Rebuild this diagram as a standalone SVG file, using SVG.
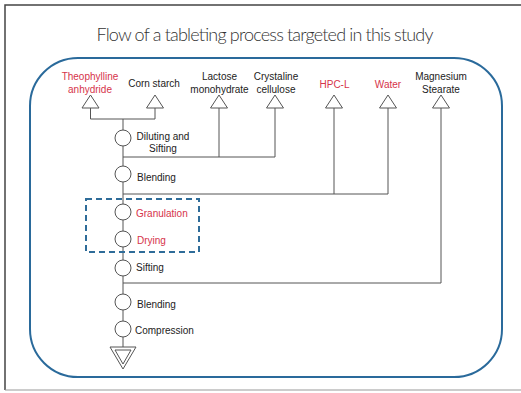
<svg xmlns="http://www.w3.org/2000/svg" width="521" height="393" viewBox="0 0 521 393">
  <style>
    .lbl { font-family: "Liberation Sans", Arial, sans-serif; font-size: 10px; fill: #222; text-anchor: middle; }
    .step { font-family: "Liberation Sans", Arial, sans-serif; font-size: 10px; fill: #222; }
    .red { fill: #d6334a; }
    .ln { stroke: #555; stroke-width: 1; fill: none; }
    .tri { stroke: #555; stroke-width: 1; fill: #fff; }
    .op { stroke: #555; stroke-width: 1; fill: #fff; }
  </style>
  <defs>
    <polygon id="inTri" points="0,0 8.5,13 -8.5,13"/>
  </defs>

  <rect width="521" height="393" fill="#fff"/>
  <!-- page frame -->
  <path d="M5,390 V5 H521" stroke="#444" stroke-width="1.5" fill="none"/>
  <path d="M5,390 H521" stroke="#999" stroke-width="1.2" fill="none"/>

  <text x="265" y="41" font-family="Lato, 'Open Sans', sans-serif" font-size="18" font-weight="300" fill="#333" text-anchor="middle" textLength="337">Flow of a tableting process targeted in this study</text>

  <!-- process boundary -->
  <rect x="30" y="58" width="472" height="319" rx="48" ry="48" fill="none" stroke="#2a6a9b" stroke-width="2"/>

  <!-- connectors -->
  <g id="connectors">
    <path class="ln" d="M123,119 V347"/>
    <path class="ln" d="M90.5,108 V119 H155 V108"/>
    <path class="ln" d="M123,157 H275 V108 M219,108 V157"/>
    <path class="ln" d="M123,194 H388 V108 M334,108 V194"/>
    <path class="ln" d="M123,283 H441 V108"/>
  </g>

  <!-- material inputs -->
  <g id="theophylline">
    <use href="#inTri" class="tri" x="90.5" y="95"/>
    <text class="lbl red" x="90" y="79.5">Theophylline</text>
    <text class="lbl red" x="90" y="92.5">anhydride</text>
  </g>
  <g id="corn-starch">
    <use href="#inTri" class="tri" x="155" y="95"/>
    <text class="lbl" x="154" y="87">Corn starch</text>
  </g>
  <g id="lactose">
    <use href="#inTri" class="tri" x="219" y="95"/>
    <text class="lbl" x="219.5" y="79.5">Lactose</text>
    <text class="lbl" x="219.5" y="92.5">monohydrate</text>
  </g>
  <g id="cellulose">
    <use href="#inTri" class="tri" x="275" y="95"/>
    <text class="lbl" x="276" y="79.5">Crystaline</text>
    <text class="lbl" x="276" y="92.5">cellulose</text>
  </g>
  <g id="hpc-l">
    <use href="#inTri" class="tri" x="334" y="95"/>
    <text class="lbl red" x="334.5" y="88">HPC-L</text>
  </g>
  <g id="water">
    <use href="#inTri" class="tri" x="388" y="95"/>
    <text class="lbl red" x="388" y="88">Water</text>
  </g>
  <g id="mg-stearate">
    <use href="#inTri" class="tri" x="441" y="95"/>
    <text class="lbl" x="441" y="79.5">Magnesium</text>
    <text class="lbl" x="441" y="92.5">Stearate</text>
  </g>

  <!-- operations -->
  <g id="diluting">
    <circle class="op" cx="123" cy="138" r="8"/>
    <text class="step" x="163" y="139.5" text-anchor="middle">Diluting and</text>
    <text class="step" x="163" y="151.5" text-anchor="middle">Sifting</text>
  </g>
  <g id="blending1">
    <circle class="op" cx="123" cy="174" r="8"/>
    <text class="step" x="137" y="180.5">Blending</text>
  </g>
  <g id="granulation">
    <circle class="op" cx="123" cy="212" r="8"/>
    <text class="step red" x="136" y="216.5">Granulation</text>
  </g>
  <g id="drying">
    <circle class="op" cx="123" cy="239" r="8"/>
    <text class="step red" x="137" y="243.5">Drying</text>
  </g>
  <g id="sifting">
    <circle class="op" cx="123" cy="268" r="8"/>
    <text class="step" x="136" y="270.5">Sifting</text>
  </g>
  <g id="blending2">
    <circle class="op" cx="123" cy="302" r="8"/>
    <text class="step" x="137" y="307.5">Blending</text>
  </g>
  <g id="compression">
    <circle class="op" cx="123" cy="329" r="8"/>
    <text class="step" x="135" y="334" font-size="11.5">Compression</text>
  </g>
  <g id="product">
    <polygon class="tri" points="110,347 136,347 123,369"/>
    <polygon class="tri" points="115,350 131,350 123,364"/>
  </g>

  <!-- studied unit operations -->
  <g id="study-scope">
    <rect x="86" y="199" width="113" height="53" fill="none" stroke="#2e6c99" stroke-width="2" stroke-dasharray="6,4"/>
  </g>
</svg>
